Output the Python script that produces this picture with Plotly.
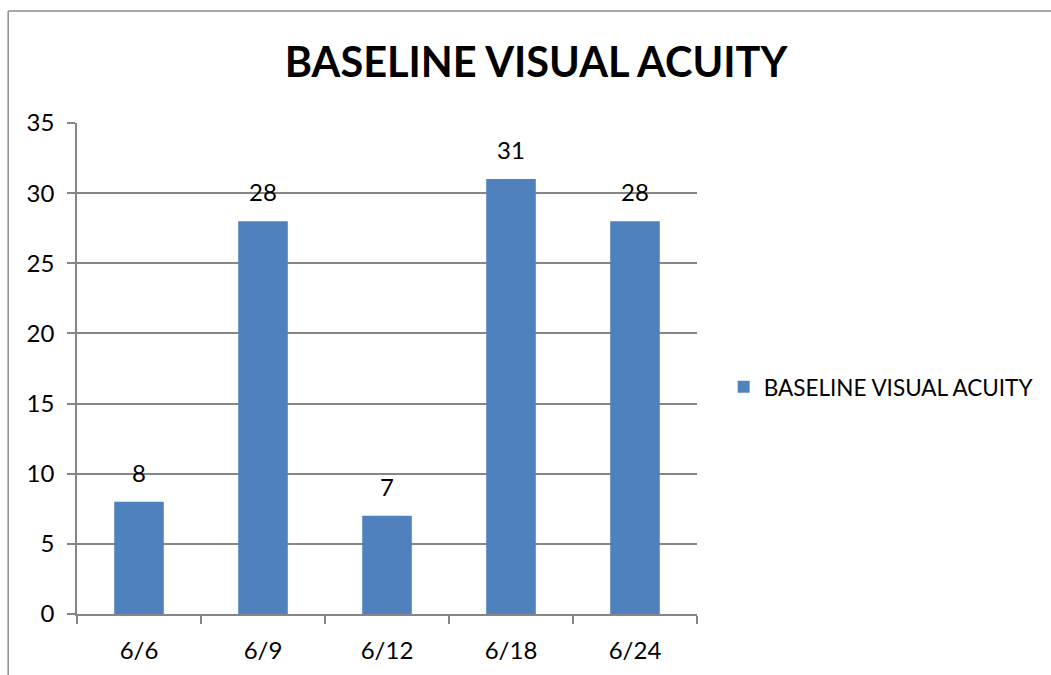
import plotly.graph_objects as go

# Baseline visual acuity distribution
categories = ["6/6", "6/9", "6/12", "6/18", "6/24"]
counts = [8, 28, 7, 31, 28]
series_name = "BASELINE VISUAL ACUITY"
y_ticks = [0, 5, 10, 15, 20, 25, 30, 35]

BAR = "#4F81BD"
GRID = "#868686"
FONT = "Lato"

fig = go.Figure()
fig.add_trace(go.Bar(
    x=categories,
    y=counts,
    name=series_name,
    marker=dict(color=BAR, line=dict(width=0)),
    width=0.4,
    showlegend=True,
))

# value labels sitting above each bar
for c, v in zip(categories, counts):
    fig.add_annotation(
        x=c, y=v, text=str(v), showarrow=False,
        yanchor="bottom", yshift=13,
        font=dict(family=FONT, size=24, color="#000000"),
    )

# chart frame (left and top edges)
fig.add_shape(type="line", xref="paper", yref="paper",
              x0=-0.111, x1=-0.111, y0=-0.2, y1=1.228,
              line=dict(color="#8c8c8c", width=1.5))
fig.add_shape(type="line", xref="paper", yref="paper",
              x0=-0.111, x1=2.0, y0=1.228, y1=1.228,
              line=dict(color="#8c8c8c", width=1.5))

fig.update_layout(
    width=1051, height=675,
    margin=dict(l=77, r=350, t=123, b=61),
    paper_bgcolor="white", plot_bgcolor="white",
    font=dict(family=FONT, size=24, color="#000000"),
    title=dict(
        text=series_name,
        font=dict(family=FONT, size=41.5, color="#000000", weight="bold"),
        x=0.51, xanchor="center", xref="container",
        y=1 - 62 / 675, yanchor="middle", yref="container",
    ),
    legend=dict(
        x=1.043, y=0.462, xanchor="left", yanchor="middle",
        font=dict(family=FONT, size=22.5, color="#000000"),
        bgcolor="rgba(0,0,0,0)",
    ),
    bargap=0.6,
)

fig.update_xaxes(
    type="category",
    automargin=False,
    showgrid=False,
    showline=True, linecolor=GRID, linewidth=1.5,
    ticks="outside", tickson="boundaries", ticklen=8, tickcolor=GRID, tickwidth=1.5,
    tickfont=dict(family=FONT, size=24),
    ticklabelstandoff=14,
)
fig.update_yaxes(
    range=[0, 35],
    automargin=False,
    tickvals=y_ticks,
    showgrid=True, gridcolor=GRID, gridwidth=1.5,
    showline=True, linecolor=GRID, linewidth=1.5,
    ticks="outside", ticklen=8, tickcolor=GRID, tickwidth=1.5,
    tickfont=dict(family=FONT, size=24),
    ticklabelstandoff=8,
    zeroline=False,
)

fig.write_html("out.html")
